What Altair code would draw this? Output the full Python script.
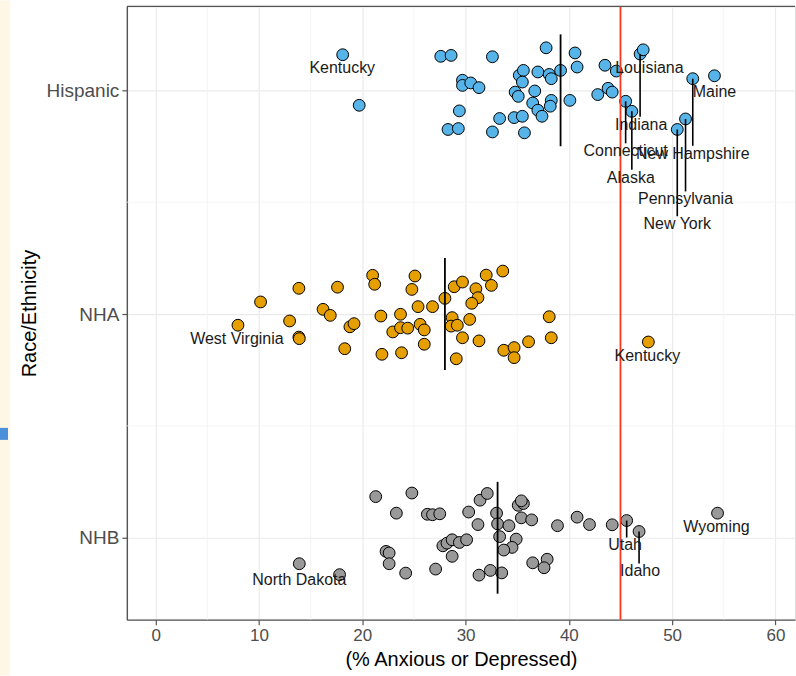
import altair as alt
import pandas as pd

# ---------------- data ----------------
groups = ["Hispanic", "NHA", "NHB"]
group_pos = [3, 2, 1]
group_colors = ["#56B4E9", "#E69F00", "#999999"]
median_pct = [39.2, 28.0, 33.1]
threshold = 45

hisp_pct = [18.1, 19.7, 27.6, 28.6, 32.6, 29.7, 29.7, 30.5, 31.3, 29.4,
            28.3, 29.3, 32.6, 33.3, 34.7, 35.5, 35.7, 35.2, 35.6, 35.5,
            34.8, 35.1, 36.7, 36.5, 37.0, 37.4, 37.0, 38.1, 38.3, 39.2,
            38.3, 38.2, 40.1, 37.8, 40.6, 40.8, 43.5, 44.6, 42.8, 43.8,
            44.2, 45.5, 46.1, 46.9, 47.2, 52.0, 54.1, 51.3, 50.5]
hisp_jit = [0.159, -0.067, 0.152, 0.156, 0.150, 0.045, 0.022, 0.033, 0.012, -0.092,
            -0.175, -0.171, -0.186, -0.126, -0.122, -0.116, -0.190, 0.067, 0.089, 0.037,
            -0.008, -0.027, -0.003, -0.057, -0.089, -0.116, 0.082, 0.071, 0.052, 0.089,
            -0.045, -0.071, -0.045, 0.190, 0.167, 0.104, 0.112, 0.086, -0.019, 0.009,
            -0.008, -0.049, -0.094, 0.162, 0.181, 0.052, 0.065, -0.128, -0.175]
hisp_state = ["Kentucky"] + [""] * 40 + ["Connecticut", "Alaska", "Indiana", "Louisiana",
                                         "New Hampshire", "Maine", "Pennsylvania", "New York"]

nha_pct = [7.96, 10.15, 13.86, 12.96, 13.86, 13.9, 17.6, 16.2, 16.9, 18.3,
           18.8, 19.2, 21.0, 21.2, 21.8, 21.9, 23.7, 22.95, 23.7, 24.4,
           23.8, 25.1, 24.8, 25.4, 25.6, 26.0, 26.0, 26.8, 28.0, 28.7,
           28.6, 29.2, 29.7, 29.1, 28.9, 29.7, 31.0, 31.2, 30.6, 30.4,
           31.3, 32.0, 32.5, 33.6, 33.7, 34.7, 34.7, 36.1, 38.1, 38.3, 47.7]
nha_jit = [-0.050, 0.054, 0.115, -0.031, -0.103, -0.110, 0.120, 0.021, -0.006, -0.155,
           -0.057, -0.043, 0.173, 0.133, -0.009, -0.180, -0.001, -0.080, -0.061, -0.063,
           -0.173, 0.170, 0.110, 0.033, -0.046, -0.071, -0.135, 0.033, 0.070, -0.016,
           -0.054, -0.050, -0.106, -0.200, 0.122, 0.143, 0.113, 0.073, 0.048, -0.024,
           -0.120, 0.174, 0.128, 0.192, -0.162, -0.150, -0.195, -0.124, -0.012, -0.106, -0.125]
nha_state = [""] * 4 + ["West Virginia"] + [""] * 45 + ["Kentucky"]

nhb_pct = [13.9, 17.8, 21.3, 24.8, 23.3, 26.3, 26.8, 27.5, 22.3, 22.6,
           22.6, 24.2, 27.1, 30.3, 31.2, 31.4, 32.1, 33.0, 33.1, 34.2,
           33.3, 34.9, 34.5, 33.7, 35.4, 36.4, 35.1, 35.6, 35.4, 27.8,
           28.2, 28.7, 29.4, 30.1, 28.7, 31.3, 32.4, 33.5, 36.5, 37.9,
           37.6, 38.9, 40.8, 42.0, 44.2, 45.6, 46.8, 54.4]
nhb_jit = [-0.116, -0.165, 0.184, 0.200, 0.110, 0.105, 0.103, 0.107, -0.061, -0.068,
           -0.116, -0.158, -0.140, 0.115, 0.059, 0.168, 0.198, 0.110, 0.062, 0.054,
           0.005, -0.006, -0.043, -0.055, 0.089, 0.080, 0.145, 0.153, 0.165, -0.036,
           -0.024, -0.009, -0.021, -0.009, -0.083, -0.167, -0.146, -0.157, -0.112, -0.096,
           -0.134, 0.054, 0.092, 0.059, 0.058, 0.077, 0.028, 0.110]
nhb_state = ["", "North Dakota"] + [""] * 43 + ["Utah", "Idaho", "Wyoming"]

label_group = ["Hispanic"] * 9 + ["NHA"] * 2 + ["NHB"] * 4
label_state = ["Kentucky", "Louisiana", "Maine", "Indiana", "Connecticut", "Alaska",
               "New Hampshire", "Pennsylvania", "New York",
               "West Virginia", "Kentucky",
               "North Dakota", "Utah", "Idaho", "Wyoming"]
label_pct = [18.06, 47.8, 54.1, 47.0, 45.5, 46.0, 52.0, 51.3, 50.5,
             7.86, 47.6,
             13.9, 45.45, 46.9, 54.3]
label_jit = [0.10, 0.10, -0.008, -0.153, -0.272, -0.39, -0.283, -0.487, -0.598,
             -0.113, -0.1875,
             -0.1875, -0.034, -0.15, 0.046]
segment_states = ["Indiana", "Connecticut", "Alaska", "New Hampshire", "Pennsylvania",
                  "New York", "Utah", "Idaho"]

major_x = [0, 10, 20, 30, 40, 50, 60]
minor_x = [5, 15, 25, 35, 45, 55]
minor_y = [1.5, 2.5]

# ---------------- tables ----------------
pos_of = dict(zip(groups, group_pos))
rows = []
for g, pcts, jits, states in [("Hispanic", hisp_pct, hisp_jit, hisp_state),
                              ("NHA", nha_pct, nha_jit, nha_state),
                              ("NHB", nhb_pct, nhb_jit, nhb_state)]:
    for p, j, s in zip(pcts, jits, states):
        rows.append({"group": g, "pct": p, "y": pos_of[g] + j, "state": s})
pts = pd.DataFrame(rows)

labels = pd.DataFrame({"group": label_group, "state": label_state, "lx": label_pct,
                       "ly": [pos_of[g] + j for g, j in zip(label_group, label_jit)]})
seg = labels[labels["state"].isin(segment_states)].merge(pts, on=["group", "state"])
seg["y2"] = seg["ly"] + 0.035

med = pd.DataFrame({"group": groups, "pct": median_pct,
                    "y": [p - 0.25 for p in group_pos], "y2": [p + 0.25 for p in group_pos]})

XD = [-2.8, 61.9]
YD = [0.634, 3.375]
xs = alt.Scale(domain=XD, nice=False, zero=False)
ys = alt.Scale(domain=YD, nice=False, zero=False)
FONT = "Liberation Sans"

label_expr = " : ".join(f"datum.value == {p} ? '{g}'" for g, p in zip(groups, group_pos)) + " : ''"

x_axis = alt.Axis(values=major_x, grid=True, gridColor="#EBEBEB", gridWidth=1.2,
                  domain=True, domainColor="#555555", domainWidth=1.4,
                  ticks=True, tickColor="#555555", tickSize=5, tickWidth=1.2,
                  labelColor="#4D4D4D", labelFontSize=17, labelFont=FONT, labelPadding=3,
                  title="(% Anxious or Depressed)", titleFont=FONT, titleFontSize=20,
                  titleFontWeight="normal", titleColor="#000000", titlePadding=6)
y_axis = alt.Axis(values=group_pos, labelExpr=label_expr, grid=True, gridColor="#EBEBEB",
                  gridWidth=1.2, domain=True, domainColor="#555555", domainWidth=1.4,
                  ticks=True, tickColor="#555555", tickSize=5, tickWidth=1.2,
                  labelColor="#4D4D4D", labelFontSize=19, labelFont=FONT, labelPadding=3,
                  title="Race/Ethnicity", titleFont=FONT, titleFontSize=20,
                  titleFontWeight="normal", titleColor="#000000",
                  titleX=-97, titleY=307, titleAngle=270, titleAlign="center",
                  titleBaseline="middle")

one = pd.DataFrame({"a": [0]})

strip = alt.Chart(one).mark_rect(color="#FEF7E6").encode(
    x=alt.value(-127), x2=alt.value(-117), y=alt.value(-6), y2=alt.value(670))
square = alt.Chart(one).mark_rect(color="#4A90D9").encode(
    x=alt.value(-127), x2=alt.value(-119), y=alt.value(422), y2=alt.value(434))

base_pts = alt.Chart(pts).mark_point(filled=True, size=140, stroke="#000000",
                                     strokeWidth=1, opacity=1, fillOpacity=1).encode(
    x=alt.X("pct:Q", scale=xs, axis=x_axis),
    y=alt.Y("y:Q", scale=ys, axis=y_axis),
    fill=alt.Fill("group:N", scale=alt.Scale(domain=groups, range=group_colors), legend=None),
)

minor_v = alt.Chart(pd.DataFrame({"v": minor_x})).mark_rule(color="#F2F2F2", strokeWidth=0.8).encode(
    x=alt.X("v:Q", scale=xs))
minor_h = alt.Chart(pd.DataFrame({"v": minor_y})).mark_rule(color="#F2F2F2", strokeWidth=0.8).encode(
    y=alt.Y("v:Q", scale=ys))
top_border = alt.Chart(one).mark_rule(color="#555555", strokeWidth=1.4).encode(y=alt.value(0))

redline = alt.Chart(pd.DataFrame({"v": [threshold]})).mark_rule(color="#F8371F", strokeWidth=1.8).encode(
    x=alt.X("v:Q", scale=xs))

medians = alt.Chart(med).mark_rule(color="#000000", strokeWidth=1.8).encode(
    x=alt.X("pct:Q", scale=xs), y=alt.Y("y:Q", scale=ys), y2="y2:Q")

segments = alt.Chart(seg).mark_rule(color="#000000", strokeWidth=1.6).encode(
    x=alt.X("pct:Q", scale=xs), y=alt.Y("y:Q", scale=ys), y2="y2:Q")

texts = alt.Chart(labels).mark_text(font=FONT, fontSize=16, color="#1A1A1A",
                                    align="center", baseline="middle").encode(
    x=alt.X("lx:Q", scale=xs), y=alt.Y("ly:Q", scale=ys), text="state:N")

chart = alt.layer(strip, square, minor_v, minor_h, base_pts, medians, segments, redline,
                  texts, top_border).properties(
    width=669, height=614, padding=0, background="#FFFFFF"
).configure_view(stroke=None).configure(font=FONT)

chart.save("out.html", embed_options={"renderer": "svg", "actions": False})
